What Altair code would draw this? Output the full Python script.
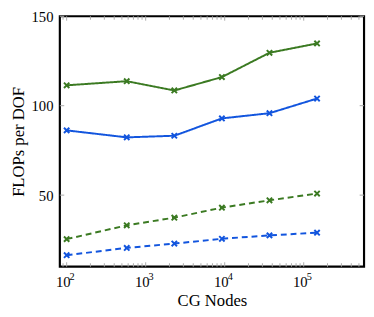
import altair as alt
import pandas as pd

nodes = [100, 576, 2304, 9216, 36864, 147456]
green_solid = [111.4, 113.7, 108.5, 116.0, 129.6, 134.8]
blue_solid = [86.2, 82.3, 83.2, 92.9, 95.8, 104.0]
green_dashed = [25.4, 33.1, 37.4, 43.0, 47.1, 50.9]
blue_dashed = [16.4, 20.5, 22.9, 25.6, 27.5, 29.0]

series_names = ["green_solid", "blue_solid", "green_dashed", "blue_dashed"]
series_values = [green_solid, blue_solid, green_dashed, blue_dashed]
series_colors = ["#3b7a22", "#1255de", "#3b7a22", "#1255de"]

x_major = [100, 1000, 10000, 100000]
x_exponents = ["2", "3", "4", "5"]
x_minor = [90] + [m * 10 ** e for e in (2, 3, 4) for m in range(2, 10)] + [200000, 300000, 400000, 500000]
y_major = [50, 100, 150]

rows = []
for name, vals in zip(series_names, series_values):
    for n, v in zip(nodes, vals):
        rows.append({"nodes": n, "flops": v, "series": name,
                     "dash": "dashed" if "dashed" in name else "solid"})
df = pd.DataFrame(rows)

W, H = 311, 256
FONT = "Liberation Serif"

xscale = alt.Scale(type="log", domain=[82, 580000], nice=False)
yscale = alt.Scale(domain=[10, 150], nice=False, zero=False)
color = alt.Color("series:N", scale=alt.Scale(domain=series_names, range=series_colors), legend=None)
dash = alt.StrokeDash("dash:N", scale=alt.Scale(domain=["solid", "dashed"], range=[[1, 0], [6, 4]]), legend=None)

x_axis = alt.Axis(values=x_major, ticks=False, tickSize=0, domain=False, grid=False, title="CG Nodes",
                  labelExpr="'10'", labelAlign="center", labelOffset=-4, labelBaseline="alphabetic",
                  labelPadding=20, titlePadding=4, labelFlush=False)
y_axis = alt.Axis(values=y_major, ticks=False, tickSize=0, domain=False, grid=False, title="FLOPs per DOF",
                  labelPadding=7, titlePadding=4)

X = lambda: alt.X("nodes:Q", scale=xscale, axis=x_axis, title="CG Nodes")
Y = lambda: alt.Y("flops:Q", scale=yscale, axis=y_axis, title="FLOPs per DOF")

lines = alt.Chart(df).mark_line(strokeWidth=2).encode(
    x=X(), y=Y(), color=color, strokeDash=dash, detail="series:N",
)
points = alt.Chart(df).mark_point(shape="M -1 -1 L 1 1 M -1 1 L 1 -1", filled=False, strokeWidth=2, size=30, opacity=1).encode(
    x=X(), y=Y(), color=color,
)

tick_color = "#aaaaaa"
xmaj = pd.DataFrame({"nodes": x_major, "exp": x_exponents})
xmin = pd.DataFrame({"nodes": x_minor})
ymaj = pd.DataFrame({"flops": y_major})

def xticks(d, length):
    b = alt.Chart(d).mark_rule(color=tick_color, strokeWidth=1)
    return [
        b.encode(x=X(), y=alt.value(H), y2=alt.value(H - length)),
        b.encode(x=X(), y=alt.value(0), y2=alt.value(length)),
    ]

yb = alt.Chart(ymaj).mark_rule(color=tick_color, strokeWidth=1)
yt = [
    yb.encode(y=Y(), x=alt.value(0), x2=alt.value(4.5)),
    yb.encode(y=Y(), x=alt.value(W), x2=alt.value(W - 4.5)),
]

exps = alt.Chart(xmaj).mark_text(font=FONT, fontSize=10.5, align="left", baseline="alphabetic",
                                  dx=3, color="black", clip=False).encode(
    x=X(), y=alt.value(H + 13.5), text="exp:N",
)

chart = alt.layer(lines, points, *xticks(xmaj, 4.5), *xticks(xmin, 3.5), *yt, exps).properties(
    width=W, height=H,
    autosize=alt.AutoSizeParams(type="none"),
    padding={"left": 53, "top": 5, "right": 2, "bottom": 48},
).configure_view(stroke="black", strokeWidth=2.2).configure_axis(
    labelFont=FONT, titleFont=FONT, labelFontSize=15, titleFontSize=17,
    labelColor="black", titleColor="black", titleFontWeight="normal",
)

chart.save("out.html", embed_options={"renderer": "svg", "actions": False})
